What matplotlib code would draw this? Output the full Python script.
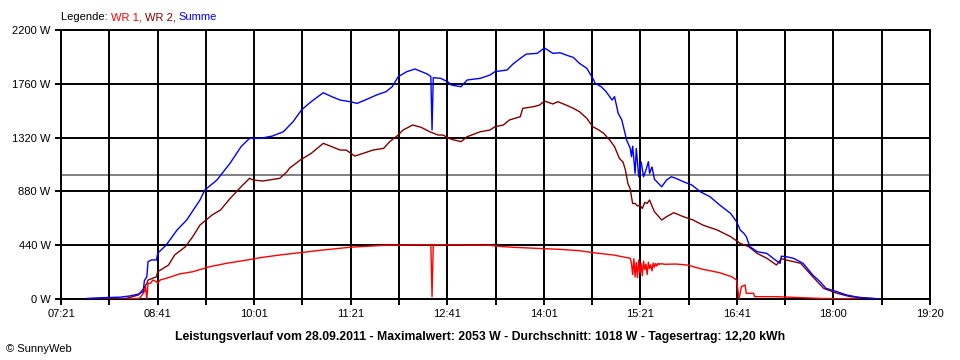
import numpy as np
import matplotlib.pyplot as plt

# Zeit in Minuten seit Mitternacht, Leistung in W
t_wr1 = [473, 501, 506, 510, 511, 512, 513, 515, 517, 520, 521, 523, 528, 534, 539, 550, 564,
         578, 595, 606, 622, 639, 658, 680, 688, 711, 730, 747, 748, 749, 771, 794, 807, 815,
         835, 854, 870, 881, 898, 912,
         913, 914, 915, 916, 917, 918, 919, 920, 921, 922, 923, 924, 925, 926, 927, 928, 929,
         930, 931, 932, 933, 934, 935, 936, 937, 938, 939,
         940, 950, 959, 972, 986, 996, 1000, 1002, 1004, 1007, 1008, 1014, 1015, 1033, 1069, 1102]
p_wr1 = [0, 3, 5, 60, 100, 0, 128, 128, 155, 142, 128, 155, 169, 188, 205, 223, 264,
         292, 319, 338, 360, 379, 401, 423, 428, 440, 442, 444, 19, 444, 442, 440, 428, 423,
         414, 406, 395, 379, 360, 333,
         292, 200, 330, 180, 300, 175, 320, 215, 290, 190, 310, 240, 285, 200, 300, 250, 280,
         230, 295, 260, 290, 270, 292, 282, 290, 286, 288,
         284, 286, 278, 243, 215, 182, 155, 0, 101, 115, 47, 47, 19, 19, 5, 0]

t_wr2 = [465, 495, 505, 509, 512, 513, 520, 521, 530, 535, 544, 550, 556, 566, 573, 581, 590,
         597, 600, 608, 622, 628, 630, 639, 648, 658, 665, 672, 677, 684, 691, 699, 708, 713,
         719, 724, 732, 739, 746, 753, 757, 764, 772, 777, 788, 796, 800, 807, 812, 821, 823,
         832, 837, 841, 848, 852, 859, 865, 870, 876, 881, 886, 890, 895, 899, 903, 906, 908,
         910, 912, 913, 914, 916, 918, 920, 922, 924, 926, 928, 930, 932, 938, 942, 948, 956,
         964, 972, 984, 995, 1003, 1010, 1017, 1025, 1033, 1037, 1041, 1053, 1063, 1072, 1083,
         1094, 1119]
p_wr2 = [0, 5, 33, 80, 128, 155, 182, 223, 278, 360, 428, 510, 605, 687, 728, 823, 918,
         987, 973, 965, 987, 1041, 1069, 1137, 1191, 1273, 1246, 1218, 1218, 1169, 1191, 1218,
         1232, 1287, 1333, 1382, 1423, 1404, 1368, 1341, 1341, 1306, 1287, 1327, 1368, 1382,
         1409, 1423, 1464, 1491, 1559, 1573, 1586, 1619, 1595, 1614, 1586, 1559, 1532, 1478,
         1409, 1382, 1355, 1300, 1246, 1150, 1120, 1055, 946, 900, 836, 780, 782, 760, 769, 740,
         790, 782, 810, 760, 714, 646, 673, 706, 673, 646, 605, 564, 510, 455, 428, 373, 333,
         278, 330, 319, 292, 182, 87, 47, 19, 0]

t_sum = [463, 473, 490, 498, 505, 509, 510, 512, 513, 516, 520, 521, 528, 537, 545, 556, 560,
         570, 581, 590, 597, 606, 616, 625, 633, 640, 648, 658, 665, 672, 680, 686, 694, 702,
         710, 715, 720, 727, 734, 744, 747, 748, 749, 755, 761, 764, 772, 777, 788, 796, 800,
         810, 815, 821, 826, 835, 841, 848, 854, 859, 865, 870, 876, 881, 883, 888, 892, 897,
         899, 902, 905, 909, 912, 913, 914, 916, 917, 919, 920, 921, 923, 925, 927, 928, 930,
         932, 934, 938, 942, 946, 950, 956, 963, 970, 978, 986, 995, 1000, 1003, 1006, 1008,
         1011, 1017, 1025, 1032, 1036, 1037, 1041, 1047, 1055, 1063, 1069, 1074, 1083, 1091,
         1102, 1119]
p_sum = [5, 10, 15, 25, 40, 60, 150, 182, 305, 320, 319, 374, 441, 564, 646, 810, 891,
         973, 1112, 1246, 1314, 1314, 1333, 1368, 1450, 1546, 1614, 1687, 1655, 1627, 1614,
         1600, 1633, 1668, 1696, 1736, 1818, 1859, 1881, 1840, 1820, 1382, 1810, 1805, 1777,
         1750, 1736, 1791, 1805, 1832, 1859, 1873, 1922, 1968, 2003, 2009, 2053, 2009, 2014,
         1995, 1975, 1927, 1887, 1805, 1764, 1736, 1696, 1627, 1655, 1519, 1464, 1300, 1232,
         1164, 1250, 1028, 1232, 1000, 1080, 1120, 1000, 1055, 1123, 1028, 1080,
         980, 959, 918, 973, 1000, 986, 959, 932, 877, 836, 769, 700, 632, 564, 537, 510,
         428, 387, 373, 319, 292, 350, 346, 333, 292, 196, 142, 87, 60, 33, 11, 0]

durchschnitt = 1018
y_ticks = [0, 440, 880, 1320, 1760, 2200]
x_labels = ["07:21", "", "08:41", "", "10:01", "", "11:21", "", "12:41", "", "14:01", "",
            "15:21", "", "16:41", "", "18:00", "", "19:20"]

plt.rcParams['font.family'] = ['Liberation Sans', 'DejaVu Sans']

fig = plt.figure(figsize=(9.6, 3.6), dpi=100)
ax = fig.add_axes([61/960, 61/360, 869/960, 269/360])

ax.axhline(durchschnitt, color='#808080', lw=1.4, zorder=1)
ax.plot(t_wr1, p_wr1, color='#ff0000', lw=1.0, zorder=3)
ax.plot(t_wr2, p_wr2, color='#800000', lw=1.0, zorder=3)
ax.plot(t_sum, p_sum, color='#0000ff', lw=1.0, zorder=3)

x_ticks = np.linspace(441, 1160, len(x_labels))
ax.set_xlim(441, 1160)
ax.set_ylim(0, 2200)
ax.set_xticks(x_ticks)
ax.set_xticklabels(x_labels)
ax.set_yticks(y_ticks)
ax.set_yticklabels(["{} W".format(v) for v in y_ticks])
ax.grid(True, color='black', lw=1.4, zorder=2)
ax.set_axisbelow(False)
for s in ax.spines.values():
    s.set_linewidth(1.4)
ax.tick_params(direction='out', length=4.5, width=1.4, labelsize=8, pad=3)

# Legende oben als farbige Textstücke
fig.canvas.draw()
renderer = fig.canvas.get_renderer()
x = 61 / 960
for txt, col in [("Legende: ", 'black'), ("WR 1, ", '#ff0000'), ("WR 2, ", '#800000'), ("Summe", '#0000ff')]:
    t = fig.text(x, 1 - 17/360, txt, color=col, fontsize=8, va='center', ha='left')
    bb = t.get_window_extent(renderer)
    x = x + bb.width / fig.bbox.width

fig.text(0.5, 1 - 337/360,
         "Leistungsverlauf vom 28.09.2011 - Maximalwert: 2053 W - Durchschnitt: 1018 W - Tagesertrag: 12,20 kWh",
         ha='center', va='center', fontsize=8.8, fontweight='bold')
fig.text(6/960, 1 - 349/360, "© SunnyWeb", ha='left', va='center', fontsize=8)

fig.savefig('out.png', dpi=100)
